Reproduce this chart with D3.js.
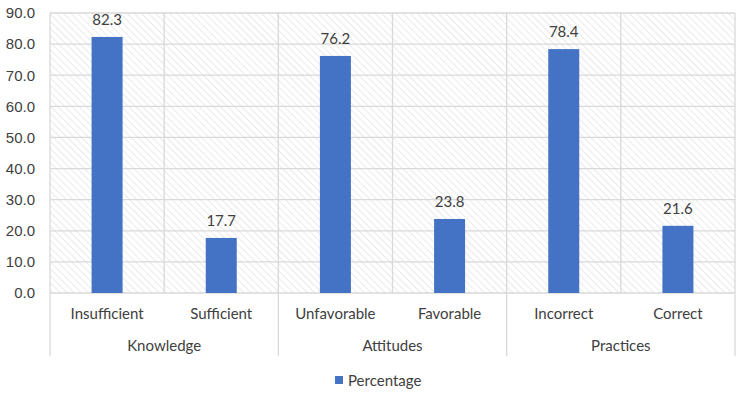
<!DOCTYPE html>
<head>
<meta charset="utf-8">
<title>KAP chart</title>
<style>
  body { margin:0; background:#fff; }
  svg { display:block; font-family: Lato, "Open Sans", sans-serif; }
  .tick text { font-size:15px; fill:#404040; }
  .lbl { font-size:15px; fill:#404040; }
</style>
</head>
<body>
<script src="https://d3js.org/d3.v7.min.js"></script>
<script>
  var width = 744, height = 396;

  // data
  var groups = ["Knowledge", "Attitudes", "Practices"];
  var categories = ["Insufficient", "Sufficient", "Unfavorable", "Favorable", "Incorrect", "Correct"];
  var categoryGroup = ["Knowledge", "Knowledge", "Attitudes", "Attitudes", "Practices", "Practices"];
  var values = [82.3, 17.7, 76.2, 23.8, 78.4, 21.6];
  var yTicks = [0, 10, 20, 30, 40, 50, 60, 70, 80, 90];

  var plotL = 50, plotR = 735, plotT = 13, plotB = 293;

  var svg = d3.select("body").append("svg")
    .attr("width", width).attr("height", height);

  // hatch fill for the plot area
  var pat = svg.append("defs").append("pattern")
    .attr("id", "hatch")
    .attr("patternUnits", "userSpaceOnUse")
    .attr("width", 5).attr("height", 5)
    .attr("patternTransform", "rotate(-45)");
  pat.append("line")
    .attr("x1", 0).attr("y1", 0).attr("x2", 0).attr("y2", 5)
    .attr("stroke", "#d6d6d6").attr("stroke-width", 1);

  var x = d3.scaleBand().domain(categories).range([plotL, plotR]);
  var y = d3.scaleLinear().domain([0, 90]).range([plotB, plotT]);

  svg.append("rect")
    .attr("x", plotL).attr("y", plotT)
    .attr("width", plotR - plotL).attr("height", plotB - plotT)
    .attr("fill", "url(#hatch)");

  // horizontal gridlines
  svg.append("g").selectAll("line")
    .data(yTicks).enter().append("line")
    .attr("x1", plotL).attr("x2", plotR)
    .attr("y1", function(d) { return y(d); })
    .attr("y2", function(d) { return y(d); })
    .attr("stroke", "#d9d9d9").attr("stroke-width", 1.3);

  // vertical gridlines at category edges
  var edges = categories.map(function(c) { return x(c); }).concat([plotR]);
  svg.append("g").selectAll("line")
    .data(edges).enter().append("line")
    .attr("x1", function(d) { return d; }).attr("x2", function(d) { return d; })
    .attr("y1", plotT).attr("y2", plotB)
    .attr("stroke", "#d9d9d9").attr("stroke-width", 1.3);

  // y axis labels
  var yAxis = svg.append("g")
    .attr("transform", "translate(" + plotL + ",0)")
    .call(d3.axisLeft(y).tickValues(yTicks).tickFormat(d3.format(".1f")).tickSize(0).tickPadding(15));
  yAxis.select(".domain").remove();

  // bars
  var bw = 31;
  svg.append("g").selectAll("rect")
    .data(values).enter().append("rect")
    .attr("x", function(d, i) { return x(categories[i]) + x.bandwidth() / 2 - bw / 2; })
    .attr("y", function(d) { return y(d); })
    .attr("width", bw)
    .attr("height", function(d) { return y(0) - y(d); })
    .attr("fill", "#4472c4");

  // value labels
  svg.append("g").selectAll("text")
    .data(values).enter().append("text")
    .attr("class", "lbl")
    .attr("x", function(d, i) { return x(categories[i]) + x.bandwidth() / 2; })
    .attr("y", function(d) { return y(d) - 12; })
    .attr("text-anchor", "middle")
    .text(function(d) { return d.toFixed(1); });

  // category labels
  svg.append("g").selectAll("text")
    .data(categories).enter().append("text")
    .attr("class", "lbl")
    .attr("x", function(d) { return x(d) + x.bandwidth() / 2; })
    .attr("y", 319)
    .attr("text-anchor", "middle")
    .text(function(d) { return d; });

  // group labels and separators
  var groupX = groups.map(function(g) {
    var idx = [];
    categoryGroup.forEach(function(cg, i) { if (cg === g) idx.push(i); });
    return { name: g, x0: x(categories[idx[0]]), x1: x(categories[idx[idx.length - 1]]) + x.bandwidth() };
  });
  svg.append("g").selectAll("text")
    .data(groupX).enter().append("text")
    .attr("class", "lbl")
    .attr("x", function(d) { return (d.x0 + d.x1) / 2; })
    .attr("y", 351)
    .attr("text-anchor", "middle")
    .text(function(d) { return d.name; });

  var seps = [plotL].concat(groupX.map(function(d) { return d.x1; }));
  svg.append("g").selectAll("line")
    .data(seps).enter().append("line")
    .attr("x1", function(d) { return d; }).attr("x2", function(d) { return d; })
    .attr("y1", plotB).attr("y2", 356)
    .attr("stroke", "#d9d9d9").attr("stroke-width", 1.3);

  // legend
  svg.append("rect")
    .attr("x", 335).attr("y", 376).attr("width", 8).attr("height", 8)
    .attr("fill", "#4472c4");
  svg.append("text")
    .attr("class", "lbl")
    .attr("x", 348).attr("y", 386)
    .text("Percentage");
</script>
</body>
